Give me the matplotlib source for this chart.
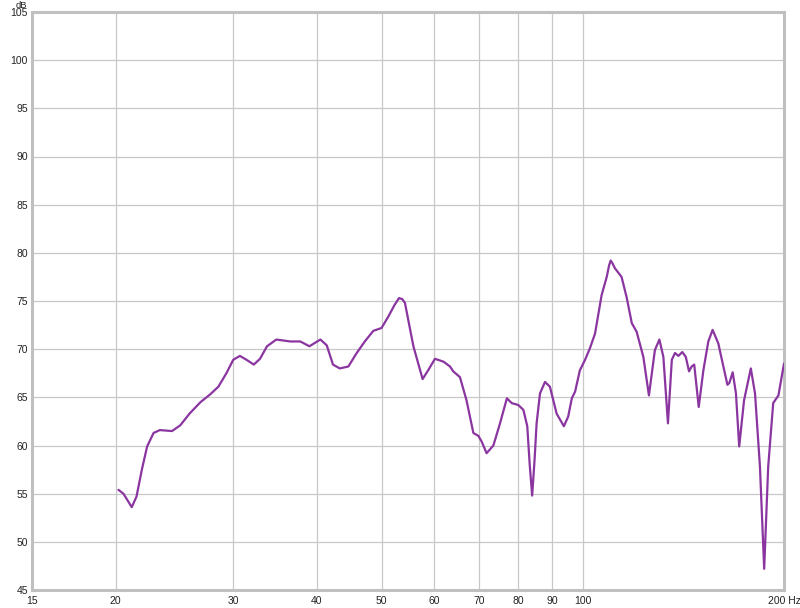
import numpy as np
import matplotlib
matplotlib.use("Agg")
import matplotlib.pyplot as plt
from matplotlib.ticker import FixedLocator, NullLocator

# Frequency response (Hz, dB)
freq = [20.2, 20.55, 21.15, 21.5, 21.9, 22.3, 22.8, 23.3, 24.3, 25.0, 25.8, 26.8,
        27.7, 28.5, 29.3, 30.0, 30.7, 31.4, 32.2, 32.9, 33.7, 34.8, 36.5, 37.8,
        39.0, 40.5, 41.4, 42.3, 43.3, 44.6, 45.9, 47.2, 48.6, 50.0, 51.2, 52.3,
        53.1, 53.7, 54.2, 55.8, 57.6, 58.7, 60.1, 61.9, 63.3, 64.0, 65.5, 67.0,
        68.6, 69.8, 70.6, 71.8, 73.5, 75.2, 77.0, 78.3, 80.1, 81.5, 82.6, 83.3,
        84.0, 84.7, 85.3, 86.3, 87.8, 89.3, 91.4, 93.7, 95.1, 96.3, 97.4, 99.0,
        100.8, 102.5, 104.3, 106.7, 108.6, 109.5, 110.1, 110.8, 111.7, 114.3,
        116.3, 118.4, 120.4, 123.2, 125.6, 128.2, 130.2, 132.0, 134.1, 135.9,
        137.4, 139.0, 140.9, 142.6, 144.2, 145.5, 146.8, 149.1, 151.5, 154.1,
        156.4, 159.5, 162.3, 164.6, 165.7, 167.6, 169.5, 171.4, 174.3, 178.4,
        181.0, 184.1, 186.8, 189.4, 192.7, 196.2, 200.0]
spl = [55.4, 55.0, 53.6, 54.7, 57.5, 59.9, 61.3, 61.6, 61.5, 62.1, 63.3, 64.5,
       65.3, 66.1, 67.5, 68.9, 69.3, 68.9, 68.4, 69.0, 70.3, 71.0, 70.8, 70.8,
       70.3, 71.0, 70.4, 68.4, 68.0, 68.2, 69.6, 70.8, 71.9, 72.2, 73.4, 74.6,
       75.3, 75.2, 74.8, 70.3, 66.9, 67.8, 69.0, 68.7, 68.2, 67.7, 67.1, 64.7,
       61.3, 61.0, 60.4, 59.2, 60.0, 62.3, 64.9, 64.4, 64.2, 63.7, 62.0, 58.0,
       54.8, 58.5, 62.3, 65.4, 66.6, 66.1, 63.3, 62.0, 63.0, 64.9, 65.6, 67.8,
       68.9, 70.1, 71.6, 75.6, 77.5, 78.7, 79.2, 78.9, 78.4, 77.5,
       75.4, 72.7, 71.8, 69.2, 65.2, 69.9, 71.0, 69.2, 62.3, 68.9,
       69.6, 69.3, 69.7, 69.2, 67.7, 68.2, 68.4, 64.0, 67.8, 70.8,
       72.0, 70.6, 68.2, 66.3, 66.5, 67.6, 65.4, 59.9, 64.7, 68.0,
       65.4, 57.8, 47.2, 57.8, 64.4, 65.2, 68.5]

xticks = [15, 20, 30, 40, 50, 60, 70, 80, 90, 100, 200]
xlabels = ["15", "20", "30", "40", "50", "60", "70", "80", "90", "100", "200 Hz"]
yticks = list(range(45, 106, 5))

plt.rcParams["font.family"] = ["Liberation Sans", "DejaVu Sans"]

fig = plt.figure(figsize=(8, 6.08), dpi=100)
ax = fig.add_axes([32/800, 18/608, 752/800, 578/608])

ax.plot(freq, spl, color="#8a35a0", lw=1.6, solid_joinstyle="round",
        solid_capstyle="round", zorder=3)

ax.set_xscale("log")
ax.set_xlim(15, 200)
ax.set_ylim(45, 105)
ax.xaxis.set_major_locator(FixedLocator(xticks))
ax.xaxis.set_minor_locator(NullLocator())
ax.set_xticklabels(xlabels)
ax.set_yticks(yticks)
ax.tick_params(length=0, labelsize=7.5, colors="#222222", pad=4)
ax.tick_params(axis="y", pad=3)
ax.grid(True, color="#c8c8c8", lw=0.9)
for s in ax.spines.values():
    s.set_color("#c0c0c0")
    s.set_linewidth(2.2)

fig.text(21/800, 1 - 0.5/608, "dB", fontsize=6.8, color="#222222", ha="center", va="top")

fig.savefig("out.png", dpi=100)
